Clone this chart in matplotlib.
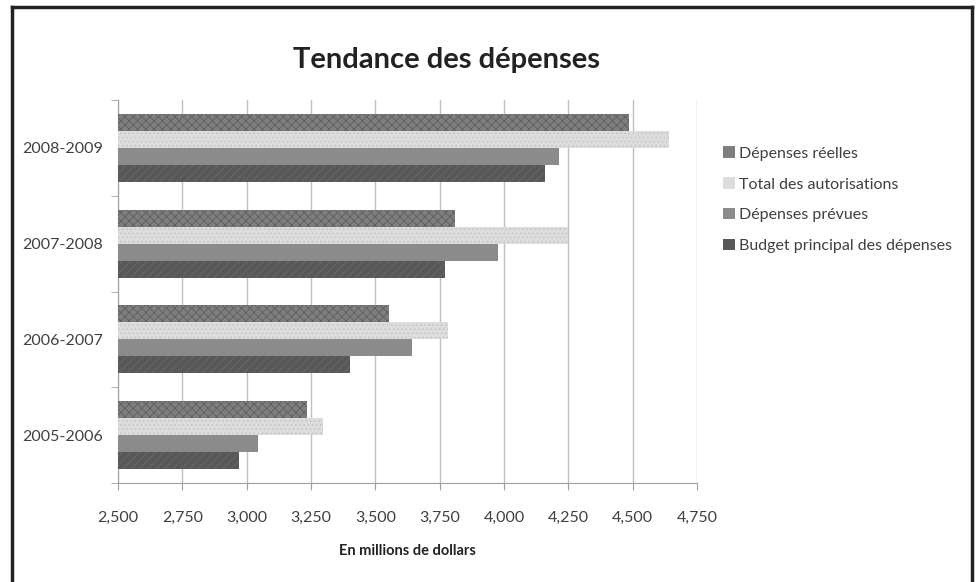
import matplotlib
matplotlib.use("Agg")
import matplotlib.pyplot as plt
import matplotlib.ticker as ticker
import numpy as np

plt.rcParams['font.family'] = ['Lato', 'DejaVu Sans']
plt.rcParams['hatch.linewidth'] = 0.6

years = ["2005-2006", "2006-2007", "2007-2008", "2008-2009"]
series_names = ["Dépenses réelles", "Total des autorisations",
                "Dépenses prévues", "Budget principal des dépenses"]
reelles = [3233, 3555, 3810, 4485]
autorisations = [3297, 3783, 4250, 4640]
prevues = [3045, 3641, 3975, 4213]
budget = [2972, 3403, 3772, 4159]

colors = ["#7e7e7e", "#dcdcdc", "#8b8b8b", "#585858"]
hatches = ["xxxx", "....", None, "////"]
hatch_colors = ["#5e5e5e", "#c4c4c4", None, "#6a6a6a"]

fig = plt.figure(figsize=(9.77, 5.82), dpi=100)
ax = fig.add_axes([118 / 977, 1 - 483 / 582, (697 - 118) / 977, (483 - 100) / 582])

y = np.arange(len(years))
h = 0.178
data = [reelles, autorisations, prevues, budget]
for i, vals in enumerate(data):
    off = (1.5 - i) * h
    ax.barh(y + off, np.array(vals) - 2500, left=2500, height=h, color=colors[i],
            label=series_names[i], zorder=3, linewidth=0)
    if hatches[i]:
        ax.barh(y + off, np.array(vals) - 2500, left=2500, height=h, color="none",
                hatch=hatches[i], edgecolor=hatch_colors[i], linewidth=0, zorder=4)

ax.set_xlim(2500, 4750)
ax.set_ylim(-0.5, 3.5)
ax.xaxis.set_major_locator(ticker.MultipleLocator(250))
ax.xaxis.set_major_formatter(ticker.StrMethodFormatter("{x:,.0f}"))
ax.set_yticks(y)
ax.set_yticklabels(years)
ax.yaxis.set_minor_locator(ticker.FixedLocator(np.arange(-0.5, 4, 1)))
ax.tick_params(axis="y", which="major", length=0, pad=11, labelsize=11.5, labelcolor="#404040")
ax.tick_params(axis="y", which="minor", length=5, color="#a0a0a0")
ax.tick_params(axis="x", length=5, color="#a0a0a0", pad=15, labelsize=11.5, labelcolor="#404040")
ax.grid(axis="x", color="#bfbfbf", linewidth=1, zorder=0)
for s in ["top", "right"]:
    ax.spines[s].set_visible(False)
for s in ["left", "bottom"]:
    ax.spines[s].set_color("#a0a0a0")

ax.set_xlabel("En millions de dollars", fontsize=10.5, fontweight="bold", labelpad=14, color="#222222")
fig.text(0.457, 1 - 60 / 582, "Tendance des dépenses", fontsize=21, fontweight="bold",
         ha="center", va="center", color="#222222")

leg = ax.legend(loc="upper left", bbox_to_anchor=(717 / 977, 1 - 140 / 582),
                bbox_transform=fig.transFigure, frameon=False, fontsize=11.5,
                handlelength=0.7, handleheight=0.7, handletextpad=0.3, labelspacing=1.05,
                borderaxespad=0)
for t in leg.get_texts():
    t.set_color("#404040")

# cadre autour du graphique
fig.add_artist(plt.Line2D([12 / 977, 12 / 977], [0, 1 - 7 / 582], color="#222222", lw=2.5,
                          transform=fig.transFigure))
fig.add_artist(plt.Line2D([972 / 977, 972 / 977], [0, 1 - 7 / 582], color="#222222", lw=2.5,
                          transform=fig.transFigure))
fig.add_artist(plt.Line2D([12 / 977, 972 / 977], [1 - 7 / 582, 1 - 7 / 582], color="#222222", lw=2.5,
                          transform=fig.transFigure))

fig.savefig("out.png", dpi=100)
